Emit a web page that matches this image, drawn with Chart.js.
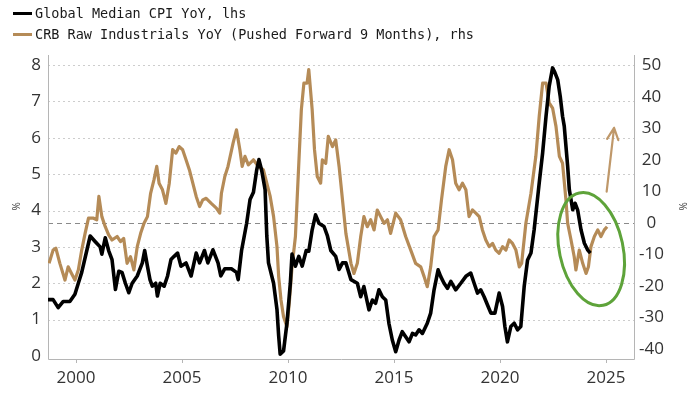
<!DOCTYPE html>
<html>
<head>
<meta charset="utf-8">
<script src="https://cdn.jsdelivr.net/npm/chart.js@4"></script>
<style>
  body { margin: 0; background: #fff; }
  #wrap { position: relative; width: 700px; height: 394px; }
  #chart { position: absolute; left: 0; top: 0; }
  .leg { position: absolute; left: 13px; font-family: "DejaVu Sans Mono", monospace; font-size: 13.5px; color: #1a1a1a; white-space: nowrap; line-height: 16px; }
  .leg i { display: inline-block; width: 19px; height: 3px; vertical-align: middle; margin-right: 3px; position: relative; top: -1px; }
</style>
</head>
<body>
<div id="wrap">
  <canvas id="chart" width="700" height="394"></canvas>
  <div class="leg" style="top:5px"><i style="background:#000"></i>Global Median CPI YoY, lhs</div>
  <div class="leg" style="top:26px"><i style="background:#B58B57"></i>CRB Raw Industrials YoY (Pushed Forward 9 Months), rhs</div>
</div>
<script>
// Global median CPI YoY (%), left axis
const cpiYears = [1998.68, 1998.92, 1999.16, 1999.40, 1999.71, 1999.95, 2000.11, 2000.27, 2000.51, 2000.67,
  2000.90, 2001.14, 2001.22, 2001.38, 2001.54, 2001.70, 2001.86, 2002.02, 2002.17, 2002.33,
  2002.49, 2002.65, 2002.89, 2003.13, 2003.24, 2003.37, 2003.49, 2003.60, 2003.76, 2003.84,
  2003.97, 2004.16, 2004.32, 2004.48, 2004.63, 2004.79, 2004.95, 2005.19, 2005.43, 2005.67,
  2005.83, 2006.06, 2006.22, 2006.46, 2006.70, 2006.83, 2007.02, 2007.33, 2007.57, 2007.65,
  2007.81, 2008.05, 2008.21, 2008.37, 2008.52, 2008.63, 2008.76, 2008.92, 2009.00, 2009.08,
  2009.32, 2009.48, 2009.56, 2009.63, 2009.79, 2009.95, 2010.11, 2010.19, 2010.35, 2010.51,
  2010.67, 2010.86, 2010.98, 2011.14, 2011.30, 2011.46, 2011.70, 2011.86, 2012.02, 2012.25,
  2012.41, 2012.57, 2012.73, 2012.97, 2013.27, 2013.43, 2013.58, 2013.82, 2013.98, 2014.13,
  2014.29, 2014.45, 2014.61, 2014.76, 2014.92, 2015.08, 2015.24, 2015.39, 2015.55, 2015.71,
  2015.87, 2016.02, 2016.18, 2016.34, 2016.57, 2016.73, 2016.89, 2017.08, 2017.20, 2017.36,
  2017.52, 2017.68, 2017.91, 2018.15, 2018.39, 2018.62, 2018.78, 2018.94, 2019.09, 2019.25,
  2019.44, 2019.57, 2019.76, 2019.96, 2020.12, 2020.23, 2020.35, 2020.51, 2020.67, 2020.83,
  2020.98, 2021.14, 2021.30, 2021.46, 2021.61, 2021.85, 2022.01, 2022.17, 2022.32, 2022.48,
  2022.59, 2022.72, 2022.84, 2022.95, 2023.03, 2023.19, 2023.27, 2023.43, 2023.54, 2023.66,
  2023.82, 2023.98, 2024.13, 2024.26];
const cpiValues = [1.55, 1.55, 1.33, 1.5, 1.5, 1.7, 2.0, 2.3, 2.9, 3.3,
  3.15, 3.0, 2.8, 3.25, 2.9, 2.65, 1.83, 2.33, 2.3, 2.0,
  1.74, 2.0, 2.2, 2.56, 2.9, 2.47, 2.1, 1.92, 2.0, 1.65,
  2.0, 1.92, 2.2, 2.65, 2.74, 2.83, 2.47, 2.56, 2.2, 2.83,
  2.56, 2.9, 2.56, 2.92, 2.56, 2.2, 2.4, 2.4, 2.3, 2.1,
  2.9, 3.65, 4.3, 4.5, 5.1, 5.4, 5.1, 4.57, 3.3, 2.56,
  2.0, 1.28, 0.55, 0.05, 0.14, 0.9, 2.0, 2.8, 2.47, 2.74,
  2.47, 2.9, 2.88, 3.47, 3.88, 3.65, 3.56, 3.3, 2.9, 2.74,
  2.38, 2.56, 2.56, 2.1, 2.0, 1.63, 1.91, 1.27, 1.54, 1.45,
  1.82, 1.63, 1.54, 0.9, 0.44, 0.12, 0.44, 0.67, 0.53, 0.39,
  0.62, 0.58, 0.72, 0.62, 0.9, 1.18, 1.82, 2.37, 2.19, 2.0,
  1.86, 2.05, 1.82, 2.0, 2.19, 2.28, 2.0, 1.73, 1.82, 1.63,
  1.36, 1.18, 1.18, 1.73, 1.36, 0.81, 0.39, 0.81, 0.9, 0.72,
  0.81, 1.91, 2.64, 2.83, 3.47, 4.76, 5.58, 6.59, 7.42, 7.92,
  7.79, 7.6, 7.14, 6.59, 6.32, 5.22, 4.57, 4.02, 4.2, 4.02,
  3.47, 3.1, 2.92, 2.83];

// CRB raw industrials YoY (%), pushed forward 9 months, right axis
const crbYears = [1998.73, 1998.92, 1999.05, 1999.24, 1999.48, 1999.63, 1999.79, 1999.95, 2000.11, 2000.27,
  2000.43, 2000.59, 2000.83, 2000.98, 2001.08, 2001.22, 2001.38, 2001.54, 2001.70, 2001.94,
  2002.10, 2002.25, 2002.41, 2002.57, 2002.73, 2002.89, 2003.05, 2003.21, 2003.37, 2003.52,
  2003.68, 2003.81, 2003.92, 2004.08, 2004.24, 2004.40, 2004.56, 2004.71, 2004.87, 2005.03,
  2005.19, 2005.35, 2005.51, 2005.67, 2005.83, 2005.98, 2006.14, 2006.38, 2006.62, 2006.78,
  2006.86, 2007.02, 2007.17, 2007.41, 2007.57, 2007.73, 2007.84, 2007.97, 2008.13, 2008.37,
  2008.60, 2008.84, 2009.00, 2009.16, 2009.32, 2009.48, 2009.56, 2009.67, 2009.79, 2009.95,
  2010.06, 2010.19, 2010.35, 2010.43, 2010.54, 2010.63, 2010.75, 2010.90, 2010.98, 2011.14,
  2011.25, 2011.38, 2011.54, 2011.62, 2011.78, 2011.90, 2012.10, 2012.25, 2012.41, 2012.57,
  2012.73, 2012.89, 2012.97, 2013.11, 2013.27, 2013.43, 2013.58, 2013.74, 2013.90, 2014.06,
  2014.21, 2014.37, 2014.53, 2014.69, 2014.84, 2015.08, 2015.31, 2015.55, 2015.79, 2016.02,
  2016.26, 2016.42, 2016.57, 2016.73, 2016.89, 2017.08, 2017.24, 2017.44, 2017.60, 2017.76,
  2017.91, 2018.07, 2018.23, 2018.39, 2018.54, 2018.70, 2018.86, 2019.02, 2019.17, 2019.33,
  2019.49, 2019.65, 2019.80, 2019.96, 2020.12, 2020.28, 2020.43, 2020.59, 2020.75, 2020.91,
  2021.02, 2021.22, 2021.46, 2021.69, 2021.85, 2022.01, 2022.17, 2022.32, 2022.48, 2022.64,
  2022.80, 2022.95, 2023.11, 2023.19, 2023.35, 2023.50, 2023.58, 2023.74, 2023.90, 2024.06,
  2024.17, 2024.29, 2024.45, 2024.61, 2024.76, 2024.92, 2025.05];
const crbValues = [-12.8, -8.6, -8.0, -12.8, -18.1, -13.9, -16.0, -18.1, -14.9, -8.6,
  -3.3, 1.5, 1.5, 1.0, 8.4, 2.0, -1.2, -3.8, -5.4, -4.3,
  -5.9, -4.9, -12.8, -10.7, -14.9, -7.5, -3.3, -0.1, 2.0, 9.4,
  13.7, 17.9, 12.6, 10.5, 6.2, 12.6, 23.2, 22.1, 24.2, 23.2,
  20.0, 16.8, 12.6, 8.4, 5.2, 7.3, 7.8, 6.2, 4.7, 3.1,
  9.4, 14.7, 17.9, 25.3, 29.5, 23.2, 17.9, 21.1, 18.4, 20.0,
  17.9, 16.8, 12.6, 8.4, 2.0, -7.5, -17.0, -24.4, -29.7, -32.9,
  -25.5, -13.9, -4.3, 7.3, 23.2, 35.9, 44.3, 44.3, 48.6, 35.9,
  23.2, 14.7, 12.6, 20.0, 18.9, 27.4, 24.2, 26.3, 17.9, 7.3,
  -3.3, -9.6, -12.8, -16.0, -12.8, -4.3, 2.0, -1.2, 1.0, -2.2,
  4.1, 2.0, -0.1, 1.0, -3.3, 3.1, 1.0, -4.3, -8.6, -12.8,
  -13.9, -17.0, -20.2, -13.9, -4.3, -2.2, 7.3, 17.9, 23.2, 20.0,
  12.6, 10.5, 12.6, 10.5, 2.0, 4.1, 3.1, 2.0, -2.2, -5.4,
  -7.5, -6.5, -8.6, -9.6, -7.5, -8.6, -5.4, -6.5, -8.6, -13.9,
  -12.8, -0.1, 9.4, 21.1, 33.8, 44.3, 44.3, 38.0, 36.4, 30.6,
  21.1, 18.9, 7.3, -0.1, -5.4, -10.7, -14.9, -8.6, -12.8, -16.0,
  -13.9, -7.5, -4.3, -2.2, -4.3, -2.2, -1.2];

const xTicks = [2000, 2005, 2010, 2015, 2020, 2025];
const leftTicks = [0, 1, 2, 3, 4, 5, 6, 7, 8];
const rightTicks = [-40, -30, -20, -10, 0, 10, 20, 30, 40, 50];

const tickFont = { family: 'Open Sans', size: 17 };
const tickColor = '#333';

// grid, dashed zero line and axis frame
const framePlugin = {
  id: 'frame',
  beforeDatasetsDraw(chart) {
    const { ctx, chartArea: a, scales } = chart;
    ctx.save();
    ctx.lineWidth = 1;
    ctx.strokeStyle = '#cdcdcd';
    ctx.setLineDash([2, 3]);
    leftTicks.forEach(v => {
      if (v === 0) return;
      const y = Math.round(scales.y.getPixelForValue(v)) + 0.5;
      ctx.beginPath(); ctx.moveTo(a.left, y); ctx.lineTo(a.right, y); ctx.stroke();
    });
    ctx.strokeStyle = '#8a8a8a';
    ctx.setLineDash([5, 4]);
    const y0 = Math.round(scales.y2.getPixelForValue(0)) + 0.5;
    ctx.beginPath(); ctx.moveTo(a.left, y0); ctx.lineTo(a.right, y0); ctx.stroke();
    ctx.setLineDash([]);
    ctx.strokeStyle = '#b5b5b5';
    ctx.beginPath();
    ctx.moveTo(a.left + 0.5, a.top); ctx.lineTo(a.left + 0.5, a.bottom + 0.5);
    ctx.lineTo(a.right + 0.5, a.bottom + 0.5); ctx.lineTo(a.right + 0.5, a.top);
    xTicks.forEach(v => {
      const x = Math.round(scales.x.getPixelForValue(v)) + 0.5;
      ctx.moveTo(x, a.bottom); ctx.lineTo(x, a.bottom + 4);
    });
    ctx.stroke();
    ctx.restore();
  },
  afterDraw(chart) {
    const { ctx, scales } = chart;
    ctx.save();
    // axis unit labels
    ctx.fillStyle = '#444';
    ctx.font = '10px "Open Sans"';
    ctx.textAlign = 'center';
    ctx.textBaseline = 'middle';
    const ym = scales.y2.getPixelForValue(4);
    ctx.translate(17, ym - 4); ctx.rotate(-Math.PI / 2); ctx.fillText('%', 0, 0);
    ctx.setTransform(1, 0, 0, 1, 0, 0);
    ctx.translate(682, ym - 4); ctx.rotate(Math.PI / 2); ctx.fillText('%', 0, 0);
    ctx.setTransform(1, 0, 0, 1, 0, 0);
    // green ellipse around the recent turn
    const cx = scales.x.getPixelForValue(2024.3);
    const cy = scales.y2.getPixelForValue(-8.3);
    const rx = scales.x.getPixelForValue(2024.3 + 1.5) - cx;
    const ry = scales.y2.getPixelForValue(-8.3 - 18.2) - cy;
    ctx.strokeStyle = '#5ea33a';
    ctx.lineWidth = 3;
    ctx.beginPath();
    ctx.ellipse(cx, cy, rx, ry, -12 * Math.PI / 180, 0, Math.PI * 2);
    ctx.stroke();
    // upward arrow
    const x1 = scales.x.getPixelForValue(2025.03), y1 = scales.y2.getPixelForValue(9.9);
    const x2 = scales.x.getPixelForValue(2025.38), y2 = scales.y2.getPixelForValue(30.1);
    const ang = Math.atan2(y2 - y1, x2 - x1);
    ctx.strokeStyle = '#bf986a';
    ctx.lineWidth = 2.2;
    ctx.lineCap = 'round';
    ctx.lineJoin = 'round';
    ctx.beginPath();
    ctx.moveTo(x1, y1); ctx.lineTo(x2, y2);
    ctx.moveTo(x2 - 13 * Math.cos(ang - 0.45), y2 - 13 * Math.sin(ang - 0.45));
    ctx.lineTo(x2, y2);
    ctx.lineTo(x2 - 13 * Math.cos(ang + 0.45), y2 - 13 * Math.sin(ang + 0.45));
    ctx.stroke();
    ctx.restore();
  }
};

const ctx = document.getElementById('chart').getContext('2d');

const chart = new Chart(ctx, {
  type: 'line',
  data: {
    datasets: [{
      label: 'Global Median CPI YoY, lhs',
      data: cpiYears.map((x, i) => ({ x: x, y: cpiValues[i] })),
      yAxisID: 'y',
      borderColor: '#000',
      borderWidth: 3.6,
      pointRadius: 0,
      borderJoinStyle: 'round'
    }, {
      label: 'CRB Raw Industrials YoY (Pushed Forward 9 Months), rhs',
      data: crbYears.map((x, i) => ({ x: x, y: crbValues[i] })),
      yAxisID: 'y2',
      borderColor: '#B58B57',
      borderWidth: 3.2,
      pointRadius: 0,
      borderJoinStyle: 'round'
    }]
  },
  options: {
    responsive: false,
    animation: false,
    layout: { padding: { top: 55, left: 0, right: 0, bottom: 0 } },
    plugins: { legend: { display: false }, tooltip: { enabled: false } },
    scales: {
      x: {
        type: 'linear',
        min: 1998.68,
        max: 2026.32,
        afterBuildTicks: s => { s.ticks = xTicks.map(v => ({ value: v })); },
        afterFit: s => { s.height = 35; },
        grid: { display: false, drawTicks: false },
        border: { display: false },
        ticks: { font: tickFont, color: tickColor, padding: 9, maxRotation: 0, callback: v => String(v) }
      },
      y: {
        position: 'left',
        min: -0.082,
        max: 8.275,
        afterBuildTicks: s => { s.ticks = leftTicks.map(v => ({ value: v })); },
        afterFit: s => { s.width = 48; },
        grid: { display: false, drawTicks: false },
        border: { display: false },
        ticks: { font: tickFont, color: tickColor, padding: 7, callback: v => String(v) }
      },
      y2: {
        position: 'right',
        min: -43.1,
        max: 53.2,
        afterBuildTicks: s => { s.ticks = rightTicks.map(v => ({ value: v })); },
        afterFit: s => { s.width = 66; },
        grid: { display: false, drawTicks: false },
        border: { display: false },
        ticks: { font: tickFont, color: tickColor, padding: 5, crossAlign: 'center', callback: v => String(v) }
      }
    }
  },
  plugins: [framePlugin]
});
</script>
</body>
</html>
